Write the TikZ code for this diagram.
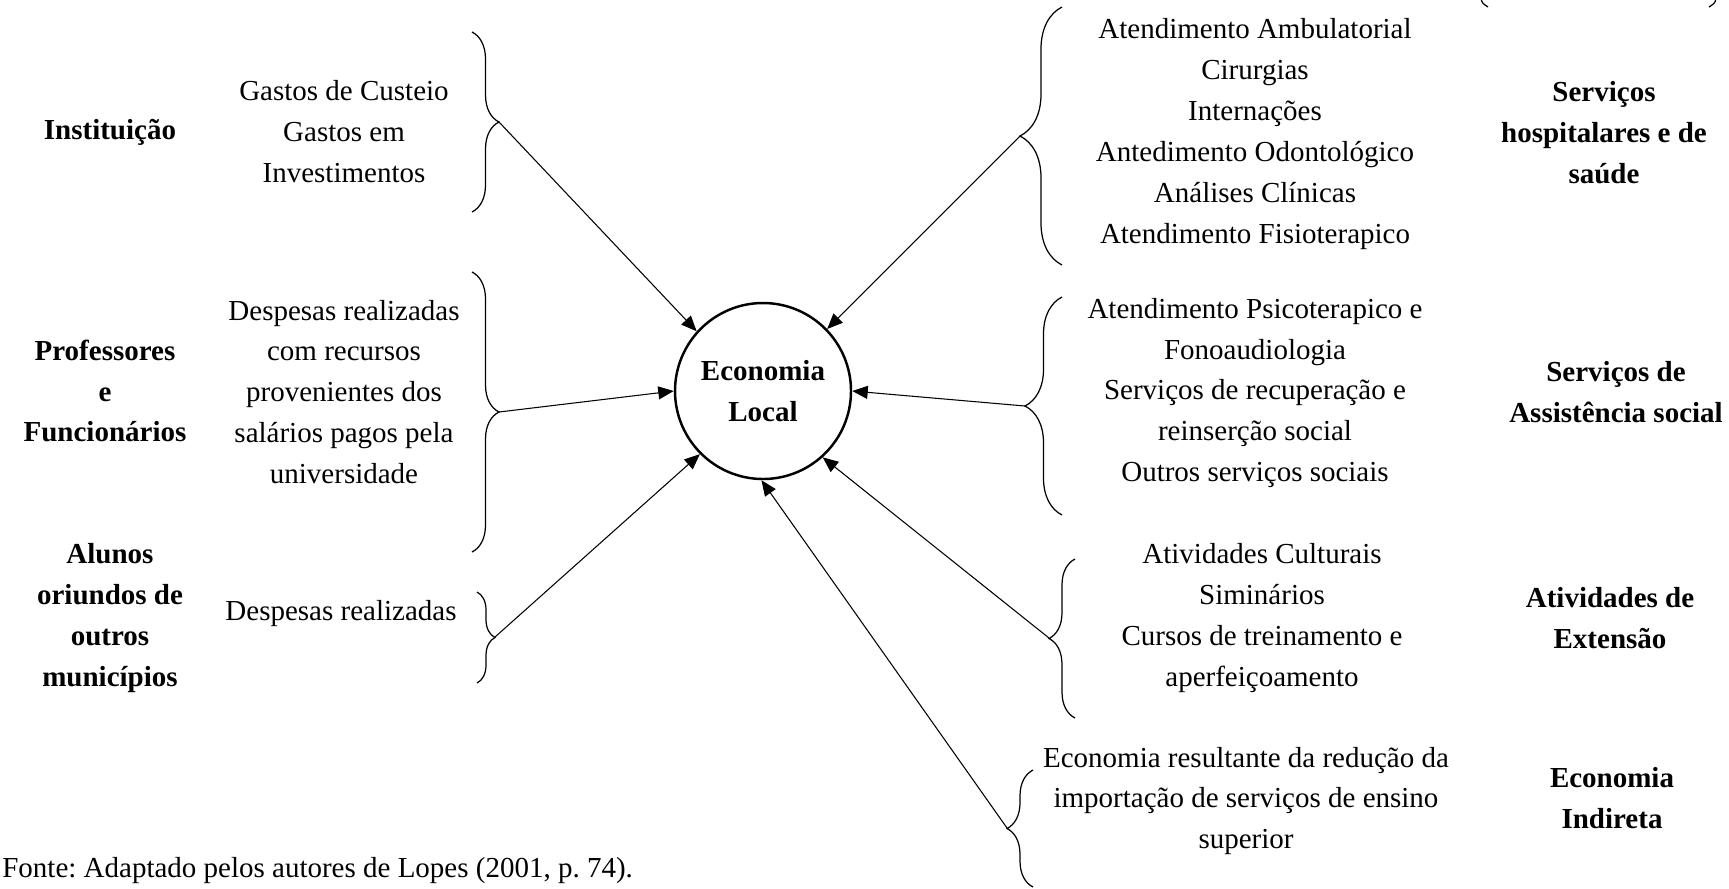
\documentclass[tikz,border=0pt]{standalone}
\usepackage{fontspec}
\setmainfont{Liberation Serif}
\usetikzlibrary{arrows.meta,decorations.pathreplacing}
\frenchspacing

\tikzset{
  item/.style={align=center, font=\fontsize{16.5}{23.3}\selectfont},
  group/.style={align=center, font=\fontsize{16.5}{23.3}\selectfont\bfseries},
  curly/.style={decorate, decoration={brace, amplitude=#1}, line width=0.7pt},
  flow/.style={-{Triangle[length=3.1mm, width=2.6mm]}, line width=0.6pt},
}

\begin{document}
\begin{tikzpicture}[x=0.2mm, y=-0.2mm]
\useasboundingbox (0,0) rectangle (1729,888);

% Centre
\node[circle, draw, line width=1.4pt, minimum size=35.2mm, group] (eco) at (763,391) {Economia\\Local};

% Left groups
\node[group] (inst) at (110,132) {Instituição};
\node[group] (prof) at (105,391) {Professores\\e\\Funcionários};
\node[group] (alun) at (110,618) {Alunos\\oriundos de\\outros\\municípios};

\node[item] (gast) at (344,132) {Gastos de Custeio\\Gastos em\\Investimentos};
\node[item] (desp) at (344,392) {Despesas realizadas\\com recursos\\provenientes dos\\salários pagos pela\\universidade};
\node[item] (desa) at (341,614) {Despesas realizadas};

% Left braces
\draw[curly=5.4mm] (472,32) -- (472,212);
\coordinate (tipA) at (499,122);
\draw[curly=5.4mm] (472,272) -- (472,552);
\coordinate (tipB) at (499,412);
\draw[curly=3.6mm] (477,592) -- (477,683);
\coordinate (tipC) at (495,637);

% Right lists
\node[item] (hosp) at (1255,134) {Atendimento Ambulatorial\\Cirurgias\\Internações\\Antedimento Odontológico\\Análises Clínicas\\Atendimento Fisioterapico};
\node[item] (soci) at (1255,393) {Atendimento Psicoterapico e\\Fonoaudiologia\\Serviços de recuperação e\\reinserção social\\Outros serviços sociais};
\node[item] (cult) at (1262,618) {Atividades Culturais\\Siminários\\Cursos de treinamento e\\aperfeiçoamento};
\node[item] (redu) at (1246,801) {Economia resultante da redução da\\importação de serviços de ensino\\superior};

% Right groups
\node[group] (servh) at (1604,133) {Serviços\\hospitalares e de\\saúde};
\node[group] (servs) at (1616,392) {Serviços de\\Assistência social};
\node[group] (ativ) at (1610,618) {Atividades de\\Extensão};
\node[group] (ind) at (1612,798) {Economia\\Indireta};

% Right braces
\draw[curly=8.4mm] (1062,265) -- (1062,7);
\coordinate (tipD) at (1020,136);
\draw[curly=7.4mm] (1062,515) -- (1062,297);
\coordinate (tipE) at (1025,406);
\draw[curly=5.2mm] (1075,718) -- (1075,559);
\coordinate (tipF) at (1049,638);
\draw[curly=5.2mm] (1033,887) -- (1033,770);
\coordinate (tipG) at (1007,828);

% Arrows into the centre
\draw[flow] (tipA) -- (eco.138);
\draw[flow] (tipB) -- (eco.180);
\draw[flow] (tipC) -- (eco.225);
\draw[flow] (tipD) -- (eco.44);
\draw[flow] (tipE) -- (eco.0);
\draw[flow] (tipF) -- (eco.-48);
\draw[flow] (tipG) -- (eco.-91);

% Cut-off brackets at the top
\draw[line width=0.7pt] (1481,-2) .. controls (1482,3) .. (1488,7);
\draw[line width=0.7pt] (1716,-2) .. controls (1715,3) .. (1709,7);

% Source
\node[item, anchor=west, inner sep=0pt] (font) at (2,871) {Fonte: Adaptado pelos autores de Lopes (2001, p. 74).};
\end{tikzpicture}
\end{document}
